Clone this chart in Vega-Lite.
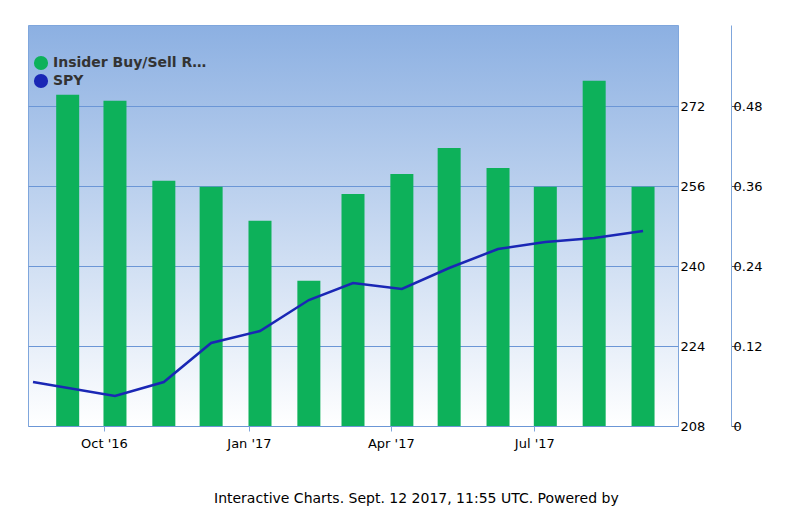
{
"$schema":"https://vega.github.io/schema/vega-lite/v6.json",
"width":650,"height":401,
"padding":{"left":28,"top":25,"right":5,"bottom":5},
"autosize":{"type":"pad"},
"background":"white",
"config":{"view":{"stroke":"#7fa6dc","fill":{"gradient":"linear","x1":0,"y1":0,"x2":0,"y2":1,"stops":[{"offset":0,"color":"#8cb0e2"},{"offset":1,"color":"#ffffff"}]}},"font":"DejaVu Sans"},
"title":{"text":"Interactive Charts. Sept. 12 2017, 11:55 UTC. Powered by","orient":"bottom","anchor":"start","offset":42,"fontSize":14,"fontWeight":"normal","color":"#000","dx":186},
"datasets":{
"bars":[
{"d":"2016-09-08","r":0.497},{"d":"2016-10-08","r":0.488},{"d":"2016-11-08","r":0.368},{"d":"2016-12-08","r":0.359},{"d":"2017-01-08","r":0.308},{"d":"2017-02-08","r":0.218},{"d":"2017-03-08","r":0.348},{"d":"2017-04-08","r":0.378},{"d":"2017-05-08","r":0.417},{"d":"2017-06-08","r":0.387},{"d":"2017-07-08","r":0.359},{"d":"2017-08-08","r":0.518},{"d":"2017-09-08","r":0.359}],
"spy":[
{"d":"2016-08-17","v":216.8},{"d":"2016-10-08","v":214.0},{"d":"2016-11-08","v":216.8},{"d":"2016-12-08","v":224.6},{"d":"2017-01-08","v":227.0},{"d":"2017-02-08","v":233.2},{"d":"2017-03-08","v":236.6},{"d":"2017-04-08","v":235.4},{"d":"2017-05-08","v":239.6},{"d":"2017-06-08","v":243.4},{"d":"2017-07-08","v":244.8},{"d":"2017-08-08","v":245.6},{"d":"2017-09-08","v":247.0}]
},
"layer":[
{"data":{"name":"bars"},"mark":{"type":"bar","color":"#0db15a","width":23},
"encoding":{
"x":{"field":"d","type":"temporal","scale":{"domain":["2016-08-17","2017-09-27"]},"axis":{"title":null,"format":"%b '%y","values":["2016-10-01","2017-01-01","2017-04-01","2017-07-01"],"labelFontSize":13,"labelColor":"#000","grid":false,"domain":false,"tickColor":"#7fa6dc","labelPadding":6}},
"y":{"field":"r","type":"quantitative","scale":{"domain":[0,0.6015],"nice":false},"axis":{"orient":"right","offset":53,"title":null,"values":[0,0.12,0.24,0.36,0.48],"format":".2~f","labelFontSize":13,"labelColor":"#000","grid":false,"domainColor":"#7fa6dc","tickColor":"#555","labelPadding":-6,"tickSize":8}},
"fill":{"datum":"Insider Buy/Sell Ratio","type":"nominal","scale":{"domain":["Insider Buy/Sell Ratio","SPY"],"range":["#0db15a","#1a27b5"]},"legend":{"orient":"none","legendX":5,"legendY":30,"title":null,"symbolType":"circle","labelFontSize":14,"labelFontWeight":"bold","labelColor":"#333","symbolSize":200}}
}},
{"data":{"name":"spy"},"mark":{"type":"line","color":"#1a27b5","strokeWidth":2.5},
"encoding":{
"x":{"field":"d","type":"temporal"},
"y":{"field":"v","type":"quantitative","scale":{"domain":[208,288.2],"nice":false},"axis":{"orient":"right","title":null,"values":[208,224,240,256,272],"labelFontSize":13,"labelColor":"#000","grid":true,"gridColor":"#6b96d6","domain":false,"ticks":false,"labelPadding":2}}
}},
{"mark":{"type":"text","text":"gurufocus","fontSize":30,"color":"#f0a500","fontWeight":"bold","align":"right","baseline":"bottom"},
"encoding":{"x":{"value":755},"y":{"value":470}}}
],
"resolve":{"scale":{"y":"independent"}}
}
